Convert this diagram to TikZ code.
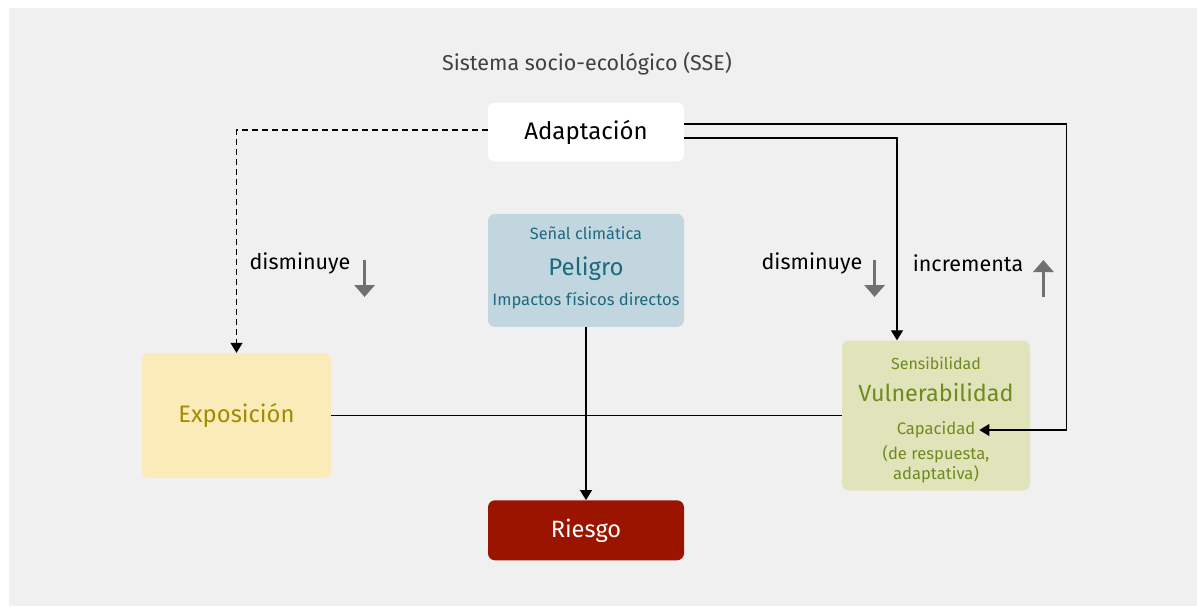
\documentclass[tikz,border=0pt]{standalone}
\usepackage{fontspec}
\setmainfont{Fira Sans}
\usetikzlibrary{arrows.meta,positioning}
\definecolor{bggray}{HTML}{F0F0F0}
\definecolor{pelfill}{HTML}{C2D6E0}
\definecolor{peltext}{HTML}{1D6A80}
\definecolor{expfill}{HTML}{FAEBB9}
\definecolor{exptext}{HTML}{A08C00}
\definecolor{vulfill}{HTML}{E1E4BA}
\definecolor{vultext}{HTML}{6F8A1E}
\definecolor{riefill}{HTML}{9A1400}
\definecolor{trendgray}{HTML}{707070}
\tikzset{>={Triangle[length=10pt,width=12pt]}}
\tikzset{box/.style={rounded corners=7pt,inner sep=0pt,align=center}}
\tikzset{conn/.style={line width=1.3pt}}
\tikzset{trend/.style={draw=trendgray,line width=3pt,-{Triangle[length=12pt,width=20pt]}}}
\tikzset{lbl/.style={inner sep=0pt,font=\fontsize{21.5}{25}\selectfont}}

\begin{document}
\begin{tikzpicture}[x=1pt,y=-1pt]
                \useasboundingbox (0,0) rectangle (1197,606);
                \fill[bggray] (9,8) rectangle (1197,606);
                \node[text=black!75,font=\fontsize{21.5}{25}\selectfont] (sse) at (587,64) {Sistema socio-ecológico (SSE)};
                \node[box,fill=white,minimum width=196pt,minimum height=59pt,font=\fontsize{24}{28}\selectfont] (adapt) at (586,132) {Adaptación};
                \node[box,fill=pelfill,minimum width=196pt,minimum height=113pt] (pel) [below=52pt of adapt] {};
                \node[text=peltext,font=\fontsize{16.3}{19}\selectfont] (senal) at (586,233) {Señal climática};
                \node[text=peltext,font=\fontsize{24}{28}\selectfont] (peltxt) at (586,269) {Peligro};
                \node[text=peltext,font=\fontsize{16.6}{19}\selectfont] (impac) at (586,301) {Impactos físicos directos};
                \node[box,fill=riefill,text=white,minimum width=196pt,minimum height=60pt,font=\fontsize{23.6}{27}\selectfont] (ries) [below=173pt of pel] {Riesgo};
                \node[box,fill=expfill,text=exptext,minimum width=189pt,minimum height=125pt,font=\fontsize{23.8}{27}\selectfont] (expo) at (236.5,415.5) {Exposición};
                \node[box,fill=vulfill,minimum width=188pt,minimum height=150pt] (vul) at (936,415.5) {};
                \node[text=vultext,font=\fontsize{16}{19}\selectfont] (sens) at (936,363) {Sensibilidad};
                \node[text=vultext,font=\fontsize{23.4}{27}\selectfont] (vultxt) at (936,393) {Vulnerabilidad};
                \node[text=vultext,font=\fontsize{16.6}{19}\selectfont,inner sep=4pt] (cap) at (936,430) {Capacidad};
                \node[text=vultext,font=\fontsize{16.6}{20}\selectfont,align=center,below=-1pt of cap] (resp) {(de respuesta,\\adaptativa)};
                \node[lbl] (dis1) at (300,263) {disminuye};
                \node[lbl] (dis2) at (812,263) {disminuye};
                \node[lbl] (inc) at (968,263) {incrementa};
                % connectors
                \draw[conn,dashed,dash pattern=on 6pt off 4pt,->] ([yshift=2pt]adapt.west) -| (expo.north);
                \draw[conn,->] ([yshift=-6pt]adapt.east) -| ([xshift=-39pt]vul.north);
                \draw[conn,->] ([yshift=8pt]adapt.east) -- ++(382,0) |- (cap.east);
                \draw[conn] (expo.east) -- (vul.west);
                \draw[conn,->] (pel.south) -- (ries.north);
                % trends
                \draw[trend] ([xshift=14pt,yshift=3pt]dis1.east) -- ++(0,37);
                \draw[trend] ([xshift=12pt,yshift=3pt]dis2.east) -- ++(0,37);
                \draw[trend] ([xshift=20pt,yshift=-34pt]inc.east) -- ++(0,-37);
            \end{tikzpicture}
\end{document}
